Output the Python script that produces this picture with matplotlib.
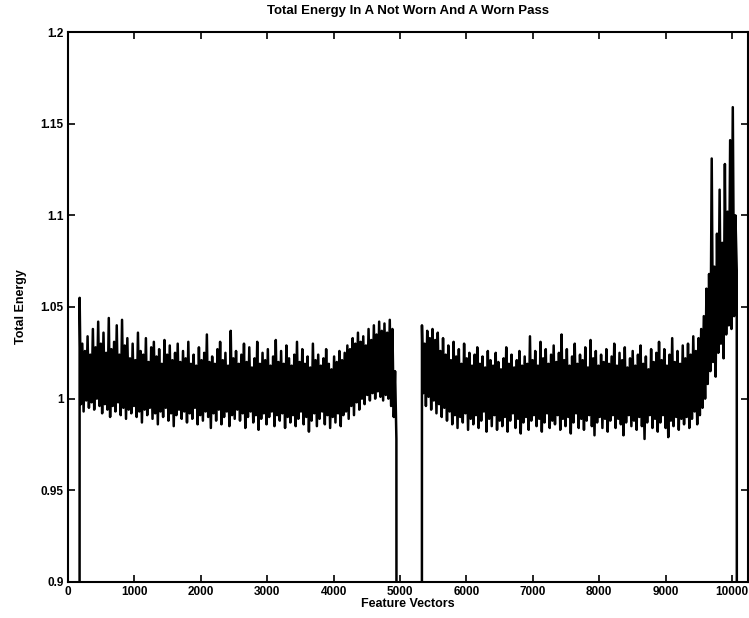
import numpy as np
import matplotlib
matplotlib.use("Agg")
from matplotlib import pyplot as plt

seg1_span = (175, 4945)
hi1 = [1.055, 1.030, 1.026, 1.034, 1.024, 1.038, 1.028, 1.042, 1.030, 1.036,
       1.025, 1.044, 1.027, 1.031, 1.040, 1.024, 1.043, 1.029, 1.033, 1.022,
       1.030, 1.021, 1.036, 1.026, 1.024, 1.033, 1.020, 1.028, 1.031, 1.023,
       1.027, 1.019, 1.032, 1.024, 1.029, 1.021, 1.025, 1.030, 1.020, 1.026,
       1.022, 1.031, 1.019, 1.024, 1.018, 1.028, 1.021, 1.025, 1.035, 1.020,
       1.023, 1.019, 1.027, 1.031, 1.021, 1.025, 1.018, 1.037, 1.022, 1.026,
       1.019, 1.024, 1.030, 1.020, 1.028, 1.017, 1.022, 1.031, 1.019, 1.025,
       1.021, 1.027, 1.018, 1.023, 1.032, 1.020, 1.026, 1.019, 1.029, 1.022,
       1.018, 1.024, 1.031, 1.020, 1.027, 1.019, 1.023, 1.017, 1.030, 1.021,
       1.024, 1.018, 1.022, 1.027, 1.019, 1.016, 1.023, 1.020, 1.026, 1.021,
       1.025, 1.029, 1.027, 1.033, 1.030, 1.036, 1.031, 1.034, 1.029, 1.038,
       1.032, 1.040, 1.035, 1.042, 1.037, 1.041, 1.036, 1.043, 1.038, 1.015]
lo1 = [0.997, 0.993, 0.999, 0.995, 0.998, 0.994, 1.000, 0.996, 0.992, 0.997,
       0.994, 0.990, 0.996, 0.993, 0.998, 0.991, 0.995, 0.989, 0.994, 0.992,
       0.996, 0.990, 0.993, 0.987, 0.994, 0.991, 0.995, 0.989, 0.992, 0.986,
       0.993, 0.990, 0.995, 0.988, 0.992, 0.985, 0.991, 0.994, 0.989, 0.993,
       0.987, 0.992, 0.989, 0.995, 0.986, 0.991, 0.988, 0.993, 0.990, 0.984,
       0.992, 0.988, 0.994, 0.986, 0.990, 0.993, 0.985, 0.991, 0.989, 0.994,
       0.988, 0.992, 0.984, 0.990, 0.993, 0.987, 0.991, 0.983, 0.989, 0.992,
       0.986, 0.990, 0.993, 0.985, 0.991, 0.988, 0.992, 0.984, 0.990, 0.987,
       0.991, 0.985, 0.989, 0.993, 0.986, 0.990, 0.982, 0.988, 0.992, 0.985,
       0.989, 0.993, 0.986, 0.991, 0.984, 0.990, 0.987, 0.992, 0.985, 0.991,
       0.993, 0.989, 0.996, 0.991, 0.998, 0.994, 1.000, 0.997, 1.002, 0.999,
       1.003, 1.000, 1.004, 1.001, 0.999, 1.002, 1.000, 0.996, 0.990, 0.978]

seg2_span = (5330, 10070)
hi2 = [1.040, 1.030, 1.037, 1.033, 1.038, 1.032, 1.036, 1.026, 1.033, 1.024,
       1.029, 1.021, 1.031, 1.023, 1.027, 1.019, 1.030, 1.022, 1.025, 1.018,
       1.024, 1.028, 1.019, 1.023, 1.017, 1.026, 1.021, 1.018, 1.025, 1.020,
       1.016, 1.022, 1.028, 1.019, 1.024, 1.017, 1.021, 1.026, 1.018, 1.023,
       1.019, 1.034, 1.021, 1.026, 1.018, 1.031, 1.022, 1.027, 1.019, 1.024,
       1.029, 1.020, 1.025, 1.035, 1.021, 1.027, 1.018, 1.023, 1.030, 1.019,
       1.024, 1.021, 1.028, 1.017, 1.032, 1.022, 1.026, 1.018, 1.024, 1.020,
       1.027, 1.019, 1.023, 1.030, 1.018, 1.025, 1.021, 1.028, 1.017, 1.022,
       1.026, 1.018, 1.024, 1.029, 1.019, 1.023, 1.016, 1.027, 1.020, 1.025,
       1.031, 1.021, 1.027, 1.018, 1.024, 1.033, 1.020, 1.026, 1.019, 1.029,
       1.022, 1.030, 1.024, 1.034, 1.026, 1.033, 1.038, 1.045, 1.060, 1.068,
       1.131, 1.072, 1.090, 1.114, 1.085, 1.128, 1.102, 1.141, 1.159, 1.100]
lo2 = [1.003, 0.996, 1.001, 0.994, 0.999, 0.992, 0.997, 0.990, 0.995, 0.988,
       0.993, 0.986, 0.991, 0.984, 0.990, 0.987, 0.992, 0.983, 0.989, 0.986,
       0.991, 0.984, 0.988, 0.993, 0.982, 0.989, 0.985, 0.991, 0.983, 0.988,
       0.985, 0.990, 0.982, 0.988, 0.992, 0.984, 0.989, 0.981, 0.987, 0.990,
       0.983, 0.988, 0.991, 0.985, 0.989, 0.982, 0.987, 0.992, 0.984, 0.988,
       0.986, 0.991, 0.983, 0.989, 0.985, 0.990, 0.981, 0.987, 0.992, 0.984,
       0.989, 0.983, 0.988, 0.991, 0.985, 0.980, 0.987, 0.990, 0.984, 0.989,
       0.982, 0.988, 0.991, 0.984, 0.989, 0.986, 0.980, 0.987, 0.991, 0.985,
       0.988, 0.983, 0.990, 0.985, 0.978, 0.987, 0.991, 0.984, 0.989, 0.982,
       0.987, 0.991, 0.984, 0.979, 0.988, 0.985, 0.990, 0.983, 0.989, 0.986,
       0.990, 0.984, 0.989, 0.993, 0.986, 0.991, 0.995, 1.000, 1.008, 1.015,
       1.020, 1.012, 1.025, 1.030, 1.022, 1.035, 1.040, 1.038, 1.045, 1.070]

off_level = 0.0      # sensor off between / around the passes
x_end = 10240

xticks = list(range(0, 10001, 1000))
yticks = [0.9, 0.95, 1.0, 1.05, 1.1, 1.15, 1.2]
ytick_labels = ['0.9', '0.95', '1', '1.05', '1.1', '1.15', '1.2']


def zigzag(span, hi, lo):
    x = np.linspace(span[0], span[1], 2 * len(hi))
    y = np.column_stack((hi, lo)).ravel()
    return x, y


x1, y1 = zigzag(seg1_span, hi1, lo1)
x2, y2 = zigzag(seg2_span, hi2, lo2)
x = np.concatenate(([0, seg1_span[0] - 5], x1, [seg1_span[1] + 10, seg2_span[0] - 5],
                    x2, [seg2_span[1] + 8, x_end]))
y = np.concatenate(([off_level, off_level], y1, [off_level, off_level],
                    y2, [off_level, off_level]))

plt.rcParams['font.family'] = ['Liberation Sans', 'DejaVu Sans']
plt.rcParams['font.weight'] = 'bold'

fig = plt.figure(figsize=(7.49, 6.18), dpi=100)
ax = fig.add_axes([0.0908, 0.0583, 0.9079, 0.8899])
ax.plot(x, y, color='black', linewidth=1.8)

ax.set_xlim(0, x_end)
ax.set_ylim(0.9, 1.2)
ax.set_xticks(xticks)
ax.set_yticks(yticks)
ax.set_yticklabels(ytick_labels)
ax.tick_params(direction='in', top=True, right=True, length=5, width=1.2,
               labelsize=8.5, pad=3)
for lab in ax.get_xticklabels() + ax.get_yticklabels():
    lab.set_fontweight('bold')
for sp in ax.spines.values():
    sp.set_linewidth(1.5)

ax.set_title('Total Energy In A Not Worn And A Worn Pass', fontsize=9.5,
             fontweight='bold', pad=13)
ax.set_xlabel('Feature Vectors', fontsize=9, fontweight='bold', labelpad=0)
ax.set_ylabel('Total Energy', fontsize=9, fontweight='bold', labelpad=10)

fig.savefig('out.png', dpi=100)
